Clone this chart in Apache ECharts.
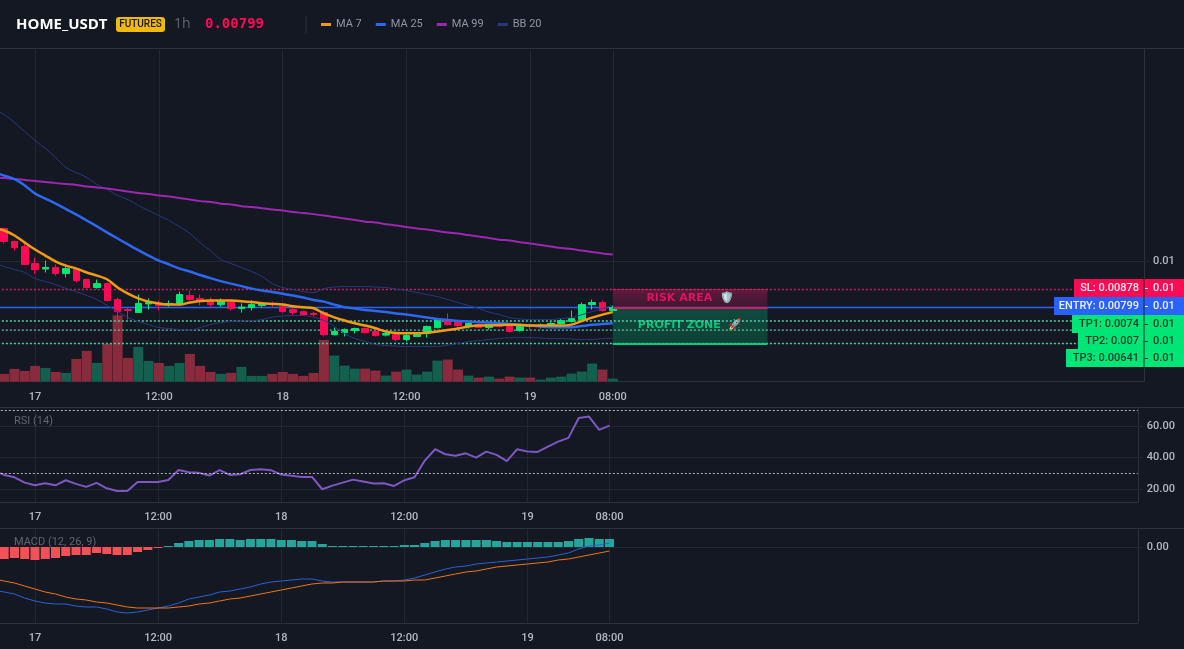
<!DOCTYPE html>
<html>
<head>
<meta charset="utf-8">
<title>HOME_USDT</title>
<script src="https://cdn.jsdelivr.net/npm/echarts@6/dist/echarts.min.js"></script>
<style>html,body{margin:0;padding:0;background:#131822}#chart{width:1184px;height:649px}</style>
</head>
<body>
<div id="chart"></div>
<script>
// All price-like series are stored in ticks of 0.00001 USDT, hourly candles.
const TICK = 1e-5;

// [open, close, low, high]; the first row sits just off the left edge of the plot.
const candles = [
  [1165,1146,1140,1170],[1146,1089,1080,1150],[1089,1062,1049,1093],[1067,988,985,1080],[992,966,948,1018],
  [968,975,953,1005],[975,948,939,988],[948,970,931,979],[970,917,909,975],[922,887,882,926],
  [887,904,882,922],[904,830,825,909],[834,781,733,843],[790,786,746,799],[777,817,775,856],
  [815,821,790,839],[817,808,786,830],[812,817,803,830],[817,856,808,869],[852,834,830,874],
  [839,825,808,856],[825,812,803,843],[812,830,803,839],[821,795,786,830],[795,801,777,817],
  [799,812,786,830],[808,817,799,821],[817,812,803,825],[803,781,777,812],[790,777,768,799],
  [781,768,764,786],[773,768,760,781],[777,680,672,786],[680,694,676,711],[689,702,672,707],
  [698,707,685,711],[707,689,685,711],[694,676,672,698],[678,685,672,698],[680,659,650,685],
  [659,676,650,685],[672,680,670,685],[685,716,667,720],[711,746,707,751],[742,724,720,773],
  [733,720,711,742],[716,729,707,738],[724,711,709,729],[711,724,702,729],[724,716,711,729],
  [716,694,689,720],[698,716,694,724],[720,716,702,729],[718,721,707,729],[720,729,716,738],
  [729,742,724,751],[738,751,733,786],[746,812,742,821],[812,821,790,834],[821,786,781,830],
  [786,799,781,808]
];
const volumes = [
  9,7.7,12.7,10.7,15.7,13.7,9.7,8.7,22.7,30.7,18.7,37.7,66.3,23.7,34.7,20.7,18.7,15.7,18.7,27.7,
  15.7,9.7,7.7,8.7,14.7,5.7,5.7,7.7,9.7,7.7,5.7,8.7,41.7,26,16,13,13,11,6,10,
  12,7,10,21,22,12,6,4,5,3,5,4,4,2,4,5,8,10,18,12,3
];
const ma7 = [
  1150,1137,1115,1084,1054,1027,1001,983,970,953,939,922,887,860,839,825,817,812,812,821,
  828,830,830,830,827,823,818,815,812,805,800,796,773,756,742,730,720,708,694,687,
  686,686,689,694,700,707,716,720,720,722,723,722,720,720,720,720,724,740,755,768,779
];
const ma25 = [
  1392,1378,1363,1335,1299,1277,1255,1231,1207,1181,1155,1128,1102,1076,1051,1027,1005,988,970,957,
  942,928,915,904,893,882,874,867,860,852,843,832,825,812,800,795,788,784,779,773,
  768,762,755,749,744,740,738,734,733,730,727,724,720,716,713,713,713,718,723,727,730
];
const ma99 = [
  1372,1367,1363,1359,1354,1350,1345,1341,1337,1330,1326,1321,1315,1308,1302,1297,1291,1286,1280,1273,
  1266,1262,1255,1251,1244,1240,1235,1229,1225,1218,1214,1209,1203,1196,1190,1183,1176,1172,1165,1159,
  1152,1146,1141,1135,1128,1124,1117,1111,1104,1097,1093,1086,1080,1073,1067,1060,1056,1049,1043,1036,1032
];
const bbUpper = [
  1672,1646,1611,1571,1532,1497,1457,1413,1391,1370,1339,1317,1291,1273,1247,1225,1203,1181,1154,1124,
  1084,1049,1010,992,975,957,935,904,887,878,869,865,882,889,891,891,891,889,887,880,
  874,865,856,847,834,821,808,795,779,768,755,749,746,746,746,751,755,768,781,795,808
];
const bbLower = [
  997,979,966,953,926,913,900,882,869,852,834,808,781,755,738,724,711,707,702,700,
  711,724,733,738,740,742,746,757,762,764,764,757,742,716,685,663,650,637,632,630,
  628,628,628,628,634,641,650,654,659,663,667,667,667,665,663,663,661,659,659,663,663
];
const rsi = [
  31.5,28.9,27.4,24,22.3,23.6,22.3,25.5,23.2,21.3,23.8,20.4,18.7,18.7,24.4,24.4,24.4,25.7,32,30.6,
  30.2,28.5,31.9,28.9,29.3,32,32.5,31.9,29.1,28.3,27.6,27.6,19.8,22.1,24,25.9,24.7,23.4,23.6,21.9,
  25.5,27.4,38,45.2,42,41,42.6,39.9,43.7,41.6,37.6,45.2,43.7,43.5,46.9,50,52.4,65,65.9,57.5,60.2
];
const macdLine = [
  -43,-45,-47,-51,-54,-56,-57,-57,-59,-60,-60,-62,-65,-66,-65,-63,-61,-59,-56,-52,
  -50,-48,-45,-44,-42,-40,-37,-35,-34,-33,-32,-32,-34,-35,-35,-35,-35,-35,-34,-34,
  -33,-31,-28,-25,-22,-20,-19,-17,-16,-15,-14,-13,-12,-11,-10,-8,-6,-2,1,2,4
];
const signalLine = [
  -32,-34,-36,-39,-42,-45,-47,-50,-52,-53,-55,-56,-58,-60,-61,-61,-61,-61,-60,-59,
  -57,-56,-54,-52,-51,-49,-47,-45,-43,-41,-39,-37,-36,-36,-35,-35,-35,-35,-34,-34,
  -34,-33,-33,-31,-29,-27,-25,-24,-22,-20,-19,-18,-17,-16,-15,-13,-12,-10,-8,-6,-4
];
const macdHist = [
  -12,-12,-11,-12,-13,-12,-11,-9,-8,-8,-6,-7,-8,-8,-5,-3,-1,1,4,6,
  7,7,8,8,7,8,8,8,7,7,6,6,3,1,1,1,1,1,1,1,
  2,2,4,6,7,7,7,7,7,6,5,5,5,5,5,5,6,8,9,8,8
];

// Time axis: the plot keeps empty hourly slots to the right of the last candle.
const slotCount = 112;
const tickSlots = [4, 16, 28, 40, 52, 60];
const tickLabels = ['17', '12:00', '18', '12:00', '19', '08:00'];
const categories = Array.from({length: slotCount}, (_, i) => {
  const k = tickSlots.indexOf(i);
  return k >= 0 ? tickLabels[k] : '';
});
const lastSlot = 60, zoneEndSlot = 75;

// Trade levels
const levelNames = ['SL', 'ENTRY', 'TP1', 'TP2', 'TP3'];
const levelValues = [0.00878, 0.00799, 0.0074, 0.007, 0.00641];
const levelAxisText = ['0.01', '0.01', '0.01', '0.01', '0.01'];
const [slPrice, entryPrice, , , tp3Price] = levelValues;

const BG = '#131822', GRID = '#222732', BORDER = '#2c313c', TXT = '#b4b8c2', DIM = '#5f6570';
const UP = '#00e676', DOWN = '#ff0a54';
const FONT = 'Roboto';

const ticks = a => a.map(v => +(v * TICK).toFixed(7));

function xAxisFor(gridIndex) {
  return {
    type: 'category', gridIndex, data: categories, boundaryGap: true,
    axisLine: {onZero: false, lineStyle: {color: BORDER}}, axisTick: {show: false},
    axisLabel: {interval: 0, color: TXT, fontFamily: FONT, fontSize: 11, fontWeight: 500, margin: 10},
    splitLine: {show: true, alignWithLabel: true, interval: i => tickSlots.includes(i), lineStyle: {color: GRID}}
  };
}
function yAxisFor(gridIndex, min, max, values, fmt) {
  return {
    type: 'value', gridIndex, position: 'right', min, max,
    axisLine: {show: true, lineStyle: {color: BORDER}},
    axisTick: {show: true, length: 5, customValues: values, lineStyle: {color: GRID}},
    axisLabel: {customValues: values, color: TXT, fontFamily: FONT, fontSize: 11, fontWeight: 500, margin: 9, formatter: fmt},
    splitLine: {show: true, customValues: values, lineStyle: {color: GRID}}
  };
}
function lineSeries(name, data, color, width, xAxisIndex, yAxisIndex, smooth) {
  return {
    name, type: 'line', data, xAxisIndex, yAxisIndex, showSymbol: false, symbol: 'none',
    smooth: smooth || false, color, lineStyle: {color, width}, z: 4, silent: true
  };
}

const DOTS = [2, 2];
// A level runs across the whole pane, behind the price tags.
const levelColors = ['#d81b60', '#2962ff', '#45d6a8', '#45d6a8', '#45d6a8'];
const levelDash = [DOTS, 'solid', DOTS, DOTS, DOTS];
const levelSeries = levelNames.map((name, k) => ({
  name, type: 'line', xAxisIndex: 0, yAxisIndex: 0, symbol: 'none', silent: true, z: 2,
  data: categories.map(() => levelValues[k]),
  lineStyle: {color: levelColors[k], width: 1.4, type: levelDash[k]}
}));

const labelStyles = [
  {fill: DOWN, text: '#f5e9ee'}, {fill: '#2962ff', text: '#eef2ff'},
  {fill: UP, text: '#0d3b2c'}, {fill: UP, text: '#0d3b2c'}, {fill: UP, text: '#0d3b2c'}
];
// Stacked price tags: the boxes are pushed apart so the texts never collide.
const tagLeft = [1074, 1054, 1072, 1078, 1066];
const tagTop = [279, 297, 315, 332, 349];
const tagHeight = 18;

const graphics = [];
[48.5, 407.5, 528.5].forEach(y => graphics.push({
  type: 'line', silent: true, z: 50, shape: {x1: 0, y1: y, x2: 1184, y2: y}, style: {stroke: BORDER, lineWidth: 1}
}));
levelNames.forEach((name, k) => {
  const top = tagTop[k], c = labelStyles[k];
  graphics.push({type: 'rect', z: 60, silent: true, shape: {x: tagLeft[k], y: top, width: 1184 - tagLeft[k], height: tagHeight}, style: {fill: c.fill}});
  graphics.push({type: 'text', z: 61, silent: true, x: 1139, y: top + tagHeight / 2, style: {
    text: name + ': ' + levelValues[k], fill: c.text, font: '500 11px ' + FONT, textAlign: 'right', textVerticalAlign: 'middle'}});
  graphics.push({type: 'rect', z: 61, silent: true, shape: {x: 1145, y: top + 9, width: 3, height: 1}, style: {fill: c.text}});
  graphics.push({type: 'text', z: 61, silent: true, x: 1153, y: top + tagHeight / 2, style: {
    text: levelAxisText[k], fill: c.text, font: '500 11px ' + FONT, textAlign: 'left', textVerticalAlign: 'middle'}});
});
graphics.push({type: 'rect', z: 62, silent: true, shape: {x: 1143.5, y: 279, width: 1, height: 88}, style: {fill: '#1a2a2a'}});

// Header bar
graphics.push(
  {type: 'rect', z: 60, silent: true, shape: {x: 116, y: 17, width: 49, height: 15, r: 3}, style: {fill: '#f0b90b'}},
  {type: 'text', z: 61, silent: true, x: 140.5, y: 24.5, style: {text: 'FUTURES', fill: '#1a1a1a', font: '500 10px ' + FONT, textAlign: 'center', textVerticalAlign: 'middle'}},
  {type: 'text', z: 61, silent: true, x: 174, y: 24.5, style: {text: '1h', fill: DIM, font: '14px "Open Sans"', textVerticalAlign: 'middle'}},
  {type: 'text', z: 61, silent: true, x: 205, y: 24.5, style: {text: '0.00799', fill: DOWN, font: 'bold 14px "DejaVu Sans Mono"', textVerticalAlign: 'middle'}},
  {type: 'rect', z: 60, silent: true, shape: {x: 305.5, y: 16, width: 1, height: 17}, style: {fill: BORDER}},
  {type: 'text', z: 61, silent: true, x: 14, y: 421, style: {text: 'RSI (14)', fill: DIM, font: '11px ' + FONT, textVerticalAlign: 'middle'}},
  {type: 'text', z: 61, silent: true, x: 14, y: 542, style: {text: 'MACD (12, 26, 9)', fill: DIM, font: '11px ' + FONT, textVerticalAlign: 'middle'}}
);

const option = {
  backgroundColor: BG,
  animation: false,
  title: {text: 'HOME_USDT', left: 16, top: 17, padding: 0, textStyle: {color: '#fff', fontFamily: '"Open Sans"', fontSize: 15, fontWeight: 700}},
  legend: {
    left: 321, top: 19, padding: 0, itemWidth: 10, itemHeight: 3, itemGap: 14, icon: 'rect',
    data: ['MA 7', 'MA 25', 'MA 99', 'BB 20'],
    textStyle: {color: '#8f95a3', fontFamily: FONT, fontSize: 11, padding: [0, 0, 0, 0]}
  },
  grid: [
    {left: -11.3, top: 49.6, width: 1155.3, height: 332, outerBoundsMode: 'none'},
    {left: -11.18, top: 407, width: 1149, height: 95, outerBoundsMode: 'none'},
    {left: -11.18, top: 528, width: 1149, height: 95, outerBoundsMode: 'none'}
  ],
  xAxis: [xAxisFor(0), xAxisFor(1), xAxisFor(2)],
  yAxis: [
    yAxisFor(0, 0.00474, 0.01931, [0.01], v => v.toFixed(2)),
    {type: 'value', gridIndex: 0, min: 0, max: 332, show: false, splitLine: {show: false}},
    yAxisFor(1, 11.7, 72, [20, 40, 60], v => v.toFixed(2)),
    yAxisFor(2, -0.00076, 0.00019, [0], v => v.toFixed(2))
  ],
  series: [
    {
      name: 'Volume', type: 'bar', xAxisIndex: 0, yAxisIndex: 1, barWidth: 10, z: 1, silent: true,
      data: volumes.map((v, i) => ({
        value: v,
        itemStyle: {color: candles[i][1] >= candles[i][0] ? '#14604f' : '#8a2b3d'}
      }))
    },
    ...levelSeries,
    {
      name: 'HOME_USDT', type: 'candlestick', xAxisIndex: 0, yAxisIndex: 0, barWidth: 7, z: 3, silent: true,
      data: candles.map(ticks),
      itemStyle: {color: UP, color0: DOWN, borderColor: UP, borderColor0: DOWN, borderWidth: 1},
      markLine: {
        silent: true, symbol: 'none', animation: false, z: 5, precision: 6, label: {show: false},
        data: [
          [{xAxis: lastSlot, yAxis: slPrice, lineStyle: {color: '#d81b60', width: 1, type: DOTS}}, {xAxis: zoneEndSlot, yAxis: slPrice}],
          [{xAxis: lastSlot, yAxis: entryPrice, lineStyle: {color: '#d81b60', width: 2, type: 'solid'}}, {xAxis: zoneEndSlot, yAxis: entryPrice}],
          [{xAxis: lastSlot, yAxis: tp3Price, lineStyle: {color: '#12c97a', width: 2, type: 'solid'}}, {xAxis: zoneEndSlot, yAxis: tp3Price}]
        ]
      },
      markArea: {
        silent: true, animation: false,
        data: [
          [{
            name: 'RISK AREA  🛡️', xAxis: lastSlot, yAxis: slPrice,
            itemStyle: {opacity: 0.9, color: {type: 'linear', x: 0, y: 0, x2: 0, y2: 1, colorStops: [{offset: 0, color: '#6a1840'}, {offset: 1, color: '#3e1a30'}]}},
            label: {color: '#e3125f'}
          }, {xAxis: zoneEndSlot, yAxis: entryPrice}],
          [{
            name: 'PROFIT ZONE  🚀', xAxis: lastSlot, yAxis: entryPrice,
            itemStyle: {opacity: 0.9, color: {type: 'linear', x: 0, y: 0, x2: 0, y2: 1, colorStops: [{offset: 0, color: '#0c5040'}, {offset: 1, color: '#0f4639'}]}},
            label: {color: '#0fc47d'}
          }, {xAxis: zoneEndSlot, yAxis: tp3Price}]
        ],
        label: {show: true, position: 'inside', fontFamily: '"DejaVu Sans"', fontWeight: 'bold', fontSize: 11, padding: [4, 0, 0, 0]}
      }
    },
    lineSeries('BB 20', ticks(bbUpper), '#28387f', 1, 0, 0, 0.3),
    lineSeries('BB 20', ticks(bbLower), '#28387f', 1, 0, 0, 0.3),
    lineSeries('MA 99', ticks(ma99), '#9c27b0', 2, 0, 0, 0.3),
    lineSeries('MA 25', ticks(ma25), '#2c68f0', 2.5, 0, 0, 0.3),
    lineSeries('MA 7', ticks(ma7), '#f39c12', 2.5, 0, 0, 0.3),
    {
      name: 'RSI', type: 'line', xAxisIndex: 1, yAxisIndex: 2, data: rsi, symbol: 'none', silent: true,
      lineStyle: {color: '#7e57c2', width: 2},
      markLine: {
        silent: true, symbol: 'none', animation: false, label: {show: false},
        lineStyle: {color: 'rgba(255,255,255,0.65)', type: DOTS, width: 1},
        data: [{yAxis: 70}, {yAxis: 30}]
      }
    },
    {
      name: 'Histogram', type: 'bar', xAxisIndex: 2, yAxisIndex: 3, barWidth: 9, silent: true,
      data: macdHist.map(v => ({value: +(v * TICK).toFixed(7), itemStyle: {color: v >= 0 ? '#26a69a' : '#f25257'}}))
    },
    lineSeries('MACD', ticks(macdLine), '#2962d8', 1, 2, 3),
    lineSeries('Signal', ticks(signalLine), '#f0741c', 1, 2, 3)
  ],
  graphic: {elements: graphics}
};

echarts.init(document.getElementById('chart'), null, {renderer: 'canvas'}).setOption(option);
</script>
</body>
</html>
